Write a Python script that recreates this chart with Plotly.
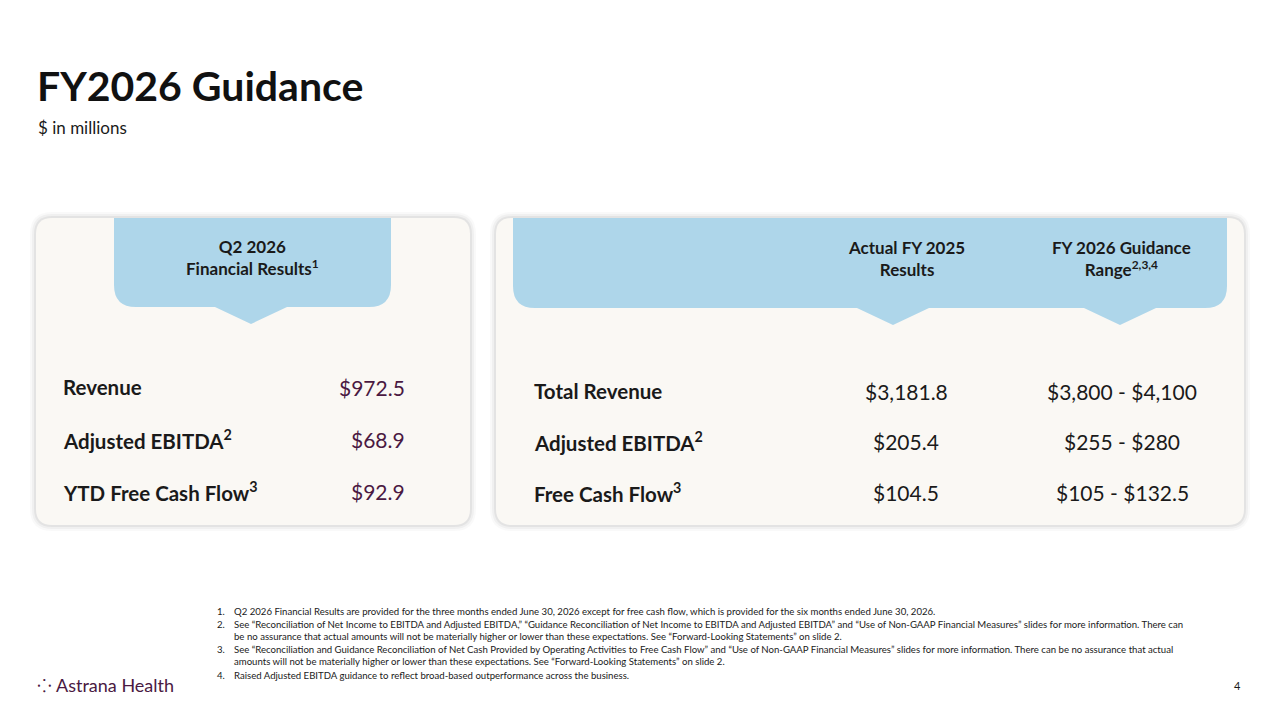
import plotly.graph_objects as go

title = "FY2026 Guidance"
subtitle = "$ in millions"
left_header = "Q2 2026<br>Financial Results<sup>1</sup>"
left_labels = ["Revenue", "Adjusted EBITDA<sup>2</sup>", "YTD Free Cash Flow<sup>3</sup>"]
left_values = ["$972.5", "$68.9", "$92.9"]
right_headers = ["Actual FY 2025<br>Results", "FY 2026 Guidance<br>Range<sup>2,3,4</sup>"]
right_labels = ["Total Revenue", "Adjusted EBITDA<sup>2</sup>", "Free Cash Flow<sup>3</sup>"]
actual_2025 = ["$3,181.8", "$205.4", "$104.5"]
guidance_2026 = ["$3,800 - $4,100", "$255 - $280", "$105 - $132.5"]
footnotes = [
    "Q2 2026 Financial Results are provided for the three months ended June 30, 2026 except for free cash flow, which is provided for the six months ended June 30, 2026.",
    "See “Reconciliation of Net Income to EBITDA and Adjusted EBITDA,” “Guidance Reconciliation of Net Income to EBITDA and Adjusted EBITDA” and “Use of Non-GAAP Financial Measures” slides for more information. There can<br>be no assurance that actual amounts will not be materially higher or lower than these expectations. See “Forward-Looking Statements” on slide 2.",
    "See “Reconciliation and Guidance Reconciliation of Net Cash Provided by Operating Activities to Free Cash Flow” and “Use of Non-GAAP Financial Measures” slides for more information. There can be no assurance that actual<br>amounts will not be materially higher or lower than these expectations. See “Forward-Looking Statements” on slide 2.",
    "Raised Adjusted EBITDA guidance to reflect broad-based outperformance across the business.",
]
foot_y = [604, 617, 642, 668]

FONT = "Lato"
DARK = "#1a1a1a"
PURPLE = "#4a1942"
BLUE = "#aed6ea"
PANEL = "#faf8f4"

def rrect(x0, y0, x1, y1, r):
    return (f"M{x0+r},{y0} L{x1-r},{y0} Q{x1},{y0} {x1},{y0+r} L{x1},{y1-r} Q{x1},{y1} {x1-r},{y1} "
            f"L{x0+r},{y1} Q{x0},{y1} {x0},{y1-r} L{x0},{y0+r} Q{x0},{y0} {x0+r},{y0} Z")

def tab(x0, y0, x1, y1, r, pointers):
    p = f"M{x0},{y0} L{x1},{y0} L{x1},{y1-r} Q{x1},{y1} {x1-r},{y1} "
    for cx in sorted(pointers, reverse=True):
        p += f"L{cx+36},{y1} L{cx},{y1+17} L{cx-36},{y1} "
    p += f"L{x0+r},{y1} Q{x0},{y1} {x0},{y1-r} Z"
    return p

shapes = []
for (x0, x1) in [(36, 470), (496, 1244)]:
    for d, c in [(6, "rgba(0,0,0,0.025)"), (4, "rgba(0,0,0,0.035)"), (2, "rgba(0,0,0,0.05)")]:
        shapes.append(dict(type="path", path=rrect(x0-d, 218-d, x1+d, 525+d, 16+d), fillcolor=c, line_width=0, layer="below"))
    shapes.append(dict(type="path", path=rrect(x0, 218, x1, 525, 16), fillcolor=PANEL, line_width=0, layer="below"))
shapes.append(dict(type="path", path=tab(114, 218, 391, 307, 22, [251]), fillcolor=BLUE, line_width=0))
shapes.append(dict(type="path", path=tab(513, 218, 1227, 308, 22, [893, 1120]), fillcolor=BLUE, line_width=0))

ann = []
def t(x, y, s, size, color=DARK, xa="left", bold=False, ya="middle"):
    ann.append(dict(x=x, y=y, text=f"<b>{s}</b>" if bold else s, showarrow=False, xanchor=xa, yanchor=ya,
                    font=dict(family=FONT, size=size, color=color), align="center" if xa == "center" else "left"))

t(35, 85, title, 41, "#111111", bold=True)
t(36, 127, subtitle, 17, DARK)
t(252, 257, left_header, 17, DARK, "center", True)
for i, h in enumerate(right_headers):
    t([906, 1121][i], 258, h, 17, DARK, "center", True)
for i in range(3):
    t(61, [387, 439, 491][i], left_labels[i], 20.5, DARK, bold=True)
    t(407, [387, 439, 491][i], left_values[i], 21, PURPLE, "right")
    y = [391, 441, 492][i]
    t(532, y, right_labels[i], 20.5, DARK, bold=True)
    t(906, y, actual_2025[i], 21, DARK, "center")
    t(1122, y, guidance_2026[i], 21, DARK, "center")
for i, f in enumerate(footnotes):
    t(215, foot_y[i], f"{i+1}.", 9.6, DARK, ya="top")
    t(232, foot_y[i], f, 9.6, DARK, ya="top")
t(35, 685, "⁘ Astrana Health", 18, PURPLE)
t(1243, 685, "4", 11, DARK, "right")

fig = go.Figure()
fig.update_layout(width=1280, height=720, margin=dict(l=0, r=0, t=0, b=0),
                  paper_bgcolor="white", plot_bgcolor="white", showlegend=False,
                  xaxis=dict(range=[8, 1288], visible=False, fixedrange=True),
                  yaxis=dict(range=[728, 8], visible=False, fixedrange=True),
                  shapes=shapes, annotations=ann)
fig.write_html("out.html", config={"displayModeBar": False})
